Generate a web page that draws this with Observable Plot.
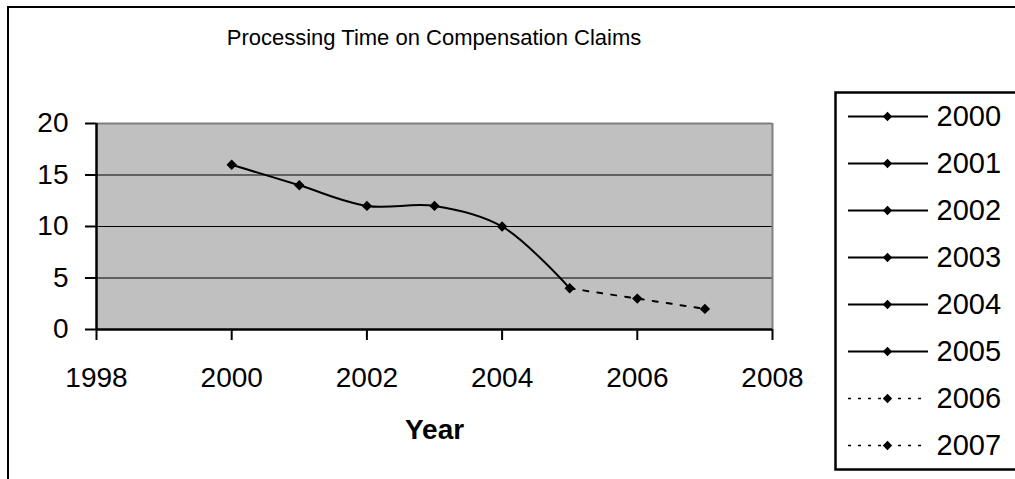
<!DOCTYPE html>
<html>
<head>
<meta charset="utf-8">
<script src="https://cdn.jsdelivr.net/npm/d3@7"></script>
<script src="https://cdn.jsdelivr.net/npm/@observablehq/plot@0.6"></script>
<style>
  html, body { margin: 0; padding: 0; background: #fff; }
  #chart { position: relative; width: 1015px; height: 479px; overflow: hidden;
           font-family: "Liberation Sans", Arial, sans-serif; color: #000; }
  #border { position: absolute; left: 7px; top: 6px; width: 1100px; height: 600px;
            border: 2px solid #000; }
  #title { position: absolute; left: 96px; width: 676px; top: 23px; text-align: center;
           font-size: 22px; line-height: 30px; white-space: nowrap; }
  #main { position: absolute; left: 0; top: 0; width: 1015px; }
  #legend { position: absolute; left: 835px; top: 92px; width: 240px; }
  #chart svg { max-width: none !important; }
</style>
</head>
<body>
<div id="chart">
  <div id="border"></div>
  <div id="title">Processing Time on Compensation Claims</div>
  <div id="main"></div>
  <div id="legend"></div>
</div>
<script>
// Processing time per year
const years = [2000, 2001, 2002, 2003, 2004, 2005, 2006, 2007];
const times = [16, 14, 12, 12, 10, 4, 3, 2];
// line style of the segment leading into each point
const styles = ["solid", "solid", "solid", "solid", "solid", "solid", "dotted", "dotted"];

const xTicks = [1998, 2000, 2002, 2004, 2006, 2008];
const yTicks = [0, 5, 10, 15, 20];
const gridLines = [5, 10, 15];

const rows = years.map((year, i) => ({year, time: times[i], style: styles[i]}));
// solid run and dotted run share the point where the style changes
const firstDotted = styles.indexOf("dotted");
const solidRun = rows.slice(0, firstDotted);
const dottedRun = rows.slice(firstDotted - 1);

const font = "'Liberation Sans', Arial, sans-serif";

const main = Plot.plot({
  width: 1015,
  height: 479,
  marginLeft: 96,
  marginRight: 243,
  marginTop: 123,
  marginBottom: 150,
  x: {domain: [1998, 2008]},
  y: {domain: [0, 20]},
  style: {fontFamily: font, fontSize: "28px", color: "#000",
          background: "transparent", overflow: "visible", maxWidth: "none"},
  marks: [
    Plot.frame({fill: "#c0c0c0", stroke: null}),
    Plot.ruleY(gridLines, {stroke: "#000", strokeWidth: 1.2}),
    Plot.ruleY([20], {stroke: "#808080", strokeWidth: 2}),
    Plot.ruleX([2008], {stroke: "#808080", strokeWidth: 2}),
    Plot.line(solidRun, {x: "year", y: "time", curve: "catmull-rom",
                         stroke: "#000", strokeWidth: 2}),
    Plot.line(dottedRun, {x: "year", y: "time", curve: "catmull-rom",
                          stroke: "#000", strokeWidth: 2, strokeDasharray: "5,9"}),
    Plot.dot(rows, {x: "year", y: "time", symbol: "diamond2", r: 4.7,
                    fill: "#000", stroke: null}),
    Plot.axisY({ticks: yTicks, tickSize: 11, tickPadding: 17, strokeWidth: 2,
                fontSize: 28, label: null}),
    Plot.axisX({ticks: xTicks, tickFormat: d => String(d), tickSize: 11,
                tickPadding: 27, strokeWidth: 2, fontSize: 28, label: null}),
    Plot.ruleX([1998], {stroke: "#000", strokeWidth: 2.5}),
    Plot.ruleY([0], {stroke: "#000", strokeWidth: 2.5}),
    Plot.text(["Year"], {frameAnchor: "bottom", dy: 109, fontWeight: "bold",
                         fontSize: 28, fill: "#000"})
  ]
});
document.getElementById("main").appendChild(main);

// Legend: one entry per year, drawn with the same line style as its segment
const legend = Plot.plot({
  width: 240,
  height: 377,
  margin: 0,
  x: {domain: [0, 240], range: [0, 240], axis: null},
  y: {type: "point", domain: years, range: [21, 356], padding: 0, axis: null},
  style: {fontFamily: font, fontSize: "29px", color: "#000",
          background: "#fff", overflow: "visible", maxWidth: "none"},
  marks: [
    Plot.frame({stroke: "#000", strokeWidth: 2.5}),
    Plot.ruleY(rows.filter(d => d.style === "solid"),
               {y: "year", x1: 13, x2: 93, stroke: "#000", strokeWidth: 2}),
    Plot.ruleY(rows.filter(d => d.style === "dotted"),
               {y: "year", x1: 13, x2: 93, stroke: "#000", strokeWidth: 1.6,
                strokeDasharray: "3,7"}),
    Plot.dot(rows, {x: () => 52, y: "year", symbol: "diamond2", r: 4.2,
                    fill: "#000", stroke: null}),
    Plot.text(rows, {x: () => 101, y: "year", text: d => String(d.year),
                     textAnchor: "start", fontSize: 29, fill: "#000"})
  ]
});
document.getElementById("legend").appendChild(legend);
</script>
</body>
</html>
